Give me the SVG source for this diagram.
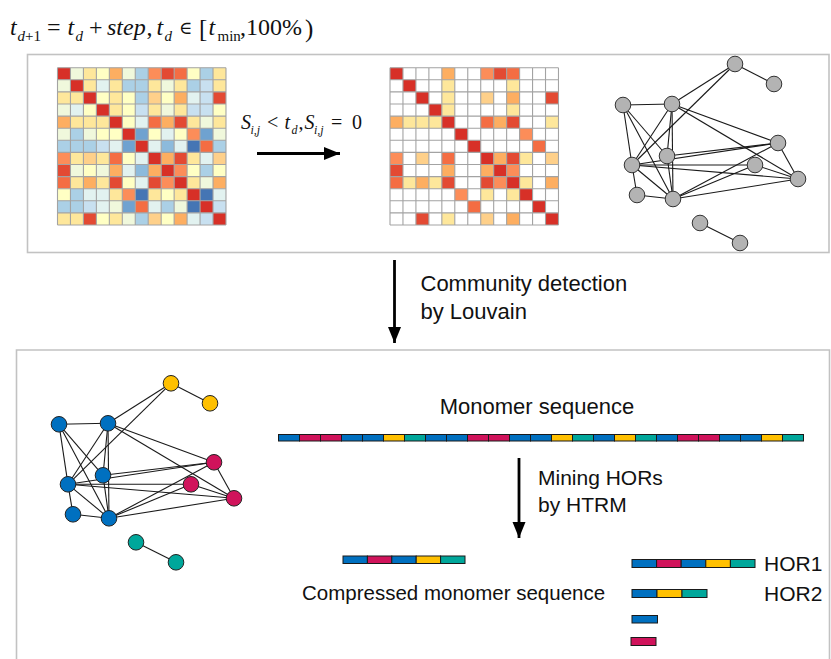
<svg xmlns="http://www.w3.org/2000/svg" xmlns:xlink="http://www.w3.org/1999/xlink" width="831" height="659" viewBox="0 0 831 659">
<style>
.lbl{font-family:"Liberation Sans",Arial,sans-serif;font-size:21px;fill:#111}
.mth{font-family:"Liberation Serif","Times New Roman",serif;fill:#111}
.sym{font-family:"DejaVu Serif","Liberation Serif",serif}
.it{font-style:italic}
.panel{fill:none;stroke:#c2c2c2;stroke-width:1.6}
.grid{fill:none;stroke:#a3a3a3;stroke-width:1.1}
.r{fill:#d73027}.R{fill:#e34a33}.o{fill:#f46d43}.n{fill:#fc8d59}.O{fill:#fdae61}.Y{fill:#fed08a}.y{fill:#fee79b}.p{fill:#ffffc4}.q{fill:#f0f8dc}.g{fill:#e2f2f0}.b{fill:#abd0e6}.c{fill:#c8e0f0}.k{fill:#8cbadc}.B{fill:#6fa2d0}.D{fill:#4575b4}
.edges line{stroke:#1a1a1a;stroke-width:1.1}
.gn circle{fill:#b3b3b3;stroke:#333;stroke-width:1}
.cb{fill:#0070c0;stroke:#222;stroke-width:1}
.cr{fill:#d0135b;stroke:#222;stroke-width:1}
.cy{fill:#ffc000;stroke:#222;stroke-width:1}
.ct{fill:#00a79b;stroke:#222;stroke-width:1}
.seg rect{stroke:#1a1a1a;stroke-width:1}
.sb{fill:#0070c0}.sp{fill:#d0135b}.sy{fill:#ffc000}.st{fill:#00a79b}
.arr{stroke:#000;stroke-width:2.8;fill:none}
</style>
<defs>
<marker id="ah" markerUnits="userSpaceOnUse" markerWidth="17" markerHeight="14" refX="16" refY="7" orient="auto">
<path d="M0,0.5 L16,7 L0,13.5 z" fill="#000"/>
</marker>
<path id="gridp" class="grid" vector-effect="non-scaling-stroke" d="M0 0H13M0 1H13M0 2H13M0 3H13M0 4H13M0 5H13M0 6H13M0 7H13M0 8H13M0 9H13M0 10H13M0 11H13M0 12H13M0 13H13M0 0V13M1 0V13M2 0V13M3 0V13M4 0V13M5 0V13M6 0V13M7 0V13M8 0V13M9 0V13M10 0V13M11 0V13M12 0V13M13 0V13"/>
</defs>
<rect width="831" height="659" fill="#fff"/>

<!-- formula -->
<g id="formula" class="mth">
<text x="10" y="35" font-size="24" class="it">t</text>
<text x="17.5" y="40.5" font-size="15"><tspan class="it">d</tspan>+1</text>
<text x="47" y="35" font-size="24">=</text>
<text x="67.5" y="35" font-size="24" class="it">t</text>
<text x="75.5" y="40.5" font-size="15" class="it">d</text>
<text x="89" y="35" font-size="24">+</text>
<text x="107" y="35" font-size="24" class="it">step</text>
<text x="146.5" y="35" font-size="24">,</text>
<text x="156.5" y="35" font-size="24" class="it">t</text>
<text x="164.5" y="40.5" font-size="15" class="it">d</text>
<text x="179" y="34" font-size="18" class="sym">∈</text>
<text x="199" y="37" font-size="25">[</text>
<text x="208.5" y="35" font-size="24" class="it">t</text>
<text x="217.5" y="40.5" font-size="15">min</text>
<text x="240" y="35" font-size="24">,100%</text>
<text x="305" y="37" font-size="25">)</text>
</g>

<!-- panels -->
<rect id="panel-top" class="panel" x="27.5" y="54.5" width="801.5" height="198"/>
<path id="panel-bottom" class="panel" d="M16.5,659 V350 H829.5 V659"/>

<!-- matrix 1 -->
<g id="matrix-full" transform="translate(57.5,67.7) scale(12.96,12.1)">
<rect x="0" y="0" width="1" height="1" class="r"/><rect x="1" y="0" width="1" height="1" class="q"/><rect x="2" y="0" width="1" height="1" class="y"/><rect x="3" y="0" width="1" height="1" class="p"/><rect x="4" y="0" width="1" height="1" class="O"/><rect x="5" y="0" width="1" height="1" class="q"/><rect x="6" y="0" width="1" height="1" class="b"/><rect x="7" y="0" width="1" height="1" class="n"/><rect x="8" y="0" width="1" height="1" class="R"/><rect x="9" y="0" width="1" height="1" class="o"/><rect x="10" y="0" width="1" height="1" class="p"/><rect x="11" y="0" width="1" height="1" class="b"/><rect x="12" y="0" width="1" height="1" class="y"/>
<rect x="0" y="1" width="1" height="1" class="q"/><rect x="1" y="1" width="1" height="1" class="r"/><rect x="2" y="1" width="1" height="1" class="y"/><rect x="3" y="1" width="1" height="1" class="g"/><rect x="4" y="1" width="1" height="1" class="y"/><rect x="5" y="1" width="1" height="1" class="b"/><rect x="6" y="1" width="1" height="1" class="b"/><rect x="7" y="1" width="1" height="1" class="y"/><rect x="8" y="1" width="1" height="1" class="q"/><rect x="9" y="1" width="1" height="1" class="y"/><rect x="10" y="1" width="1" height="1" class="b"/><rect x="11" y="1" width="1" height="1" class="c"/><rect x="12" y="1" width="1" height="1" class="y"/>
<rect x="0" y="2" width="1" height="1" class="y"/><rect x="1" y="2" width="1" height="1" class="y"/><rect x="2" y="2" width="1" height="1" class="r"/><rect x="3" y="2" width="1" height="1" class="p"/><rect x="4" y="2" width="1" height="1" class="y"/><rect x="5" y="2" width="1" height="1" class="p"/><rect x="6" y="2" width="1" height="1" class="b"/><rect x="7" y="2" width="1" height="1" class="Y"/><rect x="8" y="2" width="1" height="1" class="p"/><rect x="9" y="2" width="1" height="1" class="O"/><rect x="10" y="2" width="1" height="1" class="g"/><rect x="11" y="2" width="1" height="1" class="c"/><rect x="12" y="2" width="1" height="1" class="R"/>
<rect x="0" y="3" width="1" height="1" class="q"/><rect x="1" y="3" width="1" height="1" class="g"/><rect x="2" y="3" width="1" height="1" class="p"/><rect x="3" y="3" width="1" height="1" class="r"/><rect x="4" y="3" width="1" height="1" class="y"/><rect x="5" y="3" width="1" height="1" class="p"/><rect x="6" y="3" width="1" height="1" class="c"/><rect x="7" y="3" width="1" height="1" class="y"/><rect x="8" y="3" width="1" height="1" class="q"/><rect x="9" y="3" width="1" height="1" class="y"/><rect x="10" y="3" width="1" height="1" class="c"/><rect x="11" y="3" width="1" height="1" class="c"/><rect x="12" y="3" width="1" height="1" class="p"/>
<rect x="0" y="4" width="1" height="1" class="O"/><rect x="1" y="4" width="1" height="1" class="y"/><rect x="2" y="4" width="1" height="1" class="y"/><rect x="3" y="4" width="1" height="1" class="y"/><rect x="4" y="4" width="1" height="1" class="r"/><rect x="5" y="4" width="1" height="1" class="p"/><rect x="6" y="4" width="1" height="1" class="g"/><rect x="7" y="4" width="1" height="1" class="o"/><rect x="8" y="4" width="1" height="1" class="O"/><rect x="9" y="4" width="1" height="1" class="R"/><rect x="10" y="4" width="1" height="1" class="y"/><rect x="11" y="4" width="1" height="1" class="q"/><rect x="12" y="4" width="1" height="1" class="y"/>
<rect x="0" y="5" width="1" height="1" class="q"/><rect x="1" y="5" width="1" height="1" class="b"/><rect x="2" y="5" width="1" height="1" class="q"/><rect x="3" y="5" width="1" height="1" class="p"/><rect x="4" y="5" width="1" height="1" class="p"/><rect x="5" y="5" width="1" height="1" class="r"/><rect x="6" y="5" width="1" height="1" class="B"/><rect x="7" y="5" width="1" height="1" class="p"/><rect x="8" y="5" width="1" height="1" class="g"/><rect x="9" y="5" width="1" height="1" class="p"/><rect x="10" y="5" width="1" height="1" class="n"/><rect x="11" y="5" width="1" height="1" class="B"/><rect x="12" y="5" width="1" height="1" class="q"/>
<rect x="0" y="6" width="1" height="1" class="b"/><rect x="1" y="6" width="1" height="1" class="b"/><rect x="2" y="6" width="1" height="1" class="b"/><rect x="3" y="6" width="1" height="1" class="c"/><rect x="4" y="6" width="1" height="1" class="g"/><rect x="5" y="6" width="1" height="1" class="B"/><rect x="6" y="6" width="1" height="1" class="r"/><rect x="7" y="6" width="1" height="1" class="g"/><rect x="8" y="6" width="1" height="1" class="k"/><rect x="9" y="6" width="1" height="1" class="g"/><rect x="10" y="6" width="1" height="1" class="D"/><rect x="11" y="6" width="1" height="1" class="o"/><rect x="12" y="6" width="1" height="1" class="b"/>
<rect x="0" y="7" width="1" height="1" class="n"/><rect x="1" y="7" width="1" height="1" class="y"/><rect x="2" y="7" width="1" height="1" class="Y"/><rect x="3" y="7" width="1" height="1" class="y"/><rect x="4" y="7" width="1" height="1" class="o"/><rect x="5" y="7" width="1" height="1" class="p"/><rect x="6" y="7" width="1" height="1" class="g"/><rect x="7" y="7" width="1" height="1" class="r"/><rect x="8" y="7" width="1" height="1" class="O"/><rect x="9" y="7" width="1" height="1" class="R"/><rect x="10" y="7" width="1" height="1" class="y"/><rect x="11" y="7" width="1" height="1" class="g"/><rect x="12" y="7" width="1" height="1" class="Y"/>
<rect x="0" y="8" width="1" height="1" class="R"/><rect x="1" y="8" width="1" height="1" class="q"/><rect x="2" y="8" width="1" height="1" class="p"/><rect x="3" y="8" width="1" height="1" class="q"/><rect x="4" y="8" width="1" height="1" class="O"/><rect x="5" y="8" width="1" height="1" class="g"/><rect x="6" y="8" width="1" height="1" class="k"/><rect x="7" y="8" width="1" height="1" class="O"/><rect x="8" y="8" width="1" height="1" class="r"/><rect x="9" y="8" width="1" height="1" class="n"/><rect x="10" y="8" width="1" height="1" class="p"/><rect x="11" y="8" width="1" height="1" class="b"/><rect x="12" y="8" width="1" height="1" class="p"/>
<rect x="0" y="9" width="1" height="1" class="o"/><rect x="1" y="9" width="1" height="1" class="y"/><rect x="2" y="9" width="1" height="1" class="O"/><rect x="3" y="9" width="1" height="1" class="y"/><rect x="4" y="9" width="1" height="1" class="R"/><rect x="5" y="9" width="1" height="1" class="p"/><rect x="6" y="9" width="1" height="1" class="g"/><rect x="7" y="9" width="1" height="1" class="R"/><rect x="8" y="9" width="1" height="1" class="n"/><rect x="9" y="9" width="1" height="1" class="r"/><rect x="10" y="9" width="1" height="1" class="y"/><rect x="11" y="9" width="1" height="1" class="q"/><rect x="12" y="9" width="1" height="1" class="O"/>
<rect x="0" y="10" width="1" height="1" class="p"/><rect x="1" y="10" width="1" height="1" class="b"/><rect x="2" y="10" width="1" height="1" class="g"/><rect x="3" y="10" width="1" height="1" class="g"/><rect x="4" y="10" width="1" height="1" class="y"/><rect x="5" y="10" width="1" height="1" class="n"/><rect x="6" y="10" width="1" height="1" class="D"/><rect x="7" y="10" width="1" height="1" class="y"/><rect x="8" y="10" width="1" height="1" class="p"/><rect x="9" y="10" width="1" height="1" class="y"/><rect x="10" y="10" width="1" height="1" class="r"/><rect x="11" y="10" width="1" height="1" class="D"/><rect x="12" y="10" width="1" height="1" class="g"/>
<rect x="0" y="11" width="1" height="1" class="b"/><rect x="1" y="11" width="1" height="1" class="b"/><rect x="2" y="11" width="1" height="1" class="c"/><rect x="3" y="11" width="1" height="1" class="g"/><rect x="4" y="11" width="1" height="1" class="q"/><rect x="5" y="11" width="1" height="1" class="B"/><rect x="6" y="11" width="1" height="1" class="o"/><rect x="7" y="11" width="1" height="1" class="g"/><rect x="8" y="11" width="1" height="1" class="b"/><rect x="9" y="11" width="1" height="1" class="q"/><rect x="10" y="11" width="1" height="1" class="D"/><rect x="11" y="11" width="1" height="1" class="r"/><rect x="12" y="11" width="1" height="1" class="c"/>
<rect x="0" y="12" width="1" height="1" class="y"/><rect x="1" y="12" width="1" height="1" class="y"/><rect x="2" y="12" width="1" height="1" class="R"/><rect x="3" y="12" width="1" height="1" class="p"/><rect x="4" y="12" width="1" height="1" class="y"/><rect x="5" y="12" width="1" height="1" class="q"/><rect x="6" y="12" width="1" height="1" class="b"/><rect x="7" y="12" width="1" height="1" class="Y"/><rect x="8" y="12" width="1" height="1" class="p"/><rect x="9" y="12" width="1" height="1" class="O"/><rect x="10" y="12" width="1" height="1" class="g"/><rect x="11" y="12" width="1" height="1" class="c"/><rect x="12" y="12" width="1" height="1" class="r"/>
<use xlink:href="#gridp" href="#gridp"/>
</g>

<!-- threshold label -->
<g id="threshold-label" class="mth">
<text x="241" y="128.5" font-size="20" class="it">S</text>
<text x="250.5" y="134" font-size="12" class="it">i,j</text>
<text x="267" y="128.5" font-size="20">&lt;</text>
<text x="284.5" y="128.5" font-size="20" class="it">t</text>
<text x="291.5" y="134" font-size="12" class="it">d</text>
<text x="298.5" y="128.5" font-size="20">,</text>
<text x="304.5" y="128.5" font-size="20" class="it">S</text>
<text x="314" y="134" font-size="12" class="it">i,j</text>
<text x="331" y="128.5" font-size="20">=</text>
<text x="352" y="128.5" font-size="20">0</text>
</g>

<!-- matrix 2 -->
<g id="matrix-thresholded" transform="translate(390,67.7) scale(12.96,12.1)">
<rect x="0" y="0" width="13" height="13" fill="#fff"/>
<rect x="0" y="0" width="1" height="1" class="r"/><rect x="4" y="0" width="1" height="1" class="O"/><rect x="7" y="0" width="1" height="1" class="n"/><rect x="8" y="0" width="1" height="1" class="R"/><rect x="9" y="0" width="1" height="1" class="o"/>
<rect x="1" y="1" width="1" height="1" class="r"/><rect x="4" y="1" width="1" height="1" class="y"/><rect x="9" y="1" width="1" height="1" class="y"/>
<rect x="2" y="2" width="1" height="1" class="r"/><rect x="4" y="2" width="1" height="1" class="y"/><rect x="7" y="2" width="1" height="1" class="Y"/><rect x="9" y="2" width="1" height="1" class="O"/><rect x="12" y="2" width="1" height="1" class="R"/>
<rect x="3" y="3" width="1" height="1" class="r"/><rect x="4" y="3" width="1" height="1" class="y"/><rect x="9" y="3" width="1" height="1" class="y"/>
<rect x="0" y="4" width="1" height="1" class="O"/><rect x="1" y="4" width="3" height="1" class="y"/><rect x="4" y="4" width="1" height="1" class="r"/><rect x="7" y="4" width="1" height="1" class="o"/><rect x="8" y="4" width="1" height="1" class="O"/><rect x="9" y="4" width="1" height="1" class="R"/><rect x="12" y="4" width="1" height="1" class="y"/>
<rect x="5" y="5" width="1" height="1" class="r"/><rect x="10" y="5" width="1" height="1" class="n"/>
<rect x="6" y="6" width="1" height="1" class="r"/><rect x="11" y="6" width="1" height="1" class="o"/>
<rect x="0" y="7" width="1" height="1" class="n"/><rect x="2" y="7" width="1" height="1" class="Y"/><rect x="4" y="7" width="1" height="1" class="o"/><rect x="7" y="7" width="1" height="1" class="r"/><rect x="8" y="7" width="1" height="1" class="O"/><rect x="9" y="7" width="1" height="1" class="R"/><rect x="10" y="7" width="1" height="1" class="y"/><rect x="12" y="7" width="1" height="1" class="Y"/>
<rect x="0" y="8" width="1" height="1" class="R"/><rect x="4" y="8" width="1" height="1" class="O"/><rect x="7" y="8" width="1" height="1" class="O"/><rect x="8" y="8" width="1" height="1" class="r"/><rect x="9" y="8" width="1" height="1" class="n"/>
<rect x="0" y="9" width="1" height="1" class="o"/><rect x="1" y="9" width="1" height="1" class="y"/><rect x="2" y="9" width="1" height="1" class="O"/><rect x="3" y="9" width="1" height="1" class="y"/><rect x="4" y="9" width="1" height="1" class="R"/><rect x="7" y="9" width="1" height="1" class="R"/><rect x="8" y="9" width="1" height="1" class="n"/><rect x="9" y="9" width="1" height="1" class="r"/><rect x="10" y="9" width="1" height="1" class="y"/><rect x="12" y="9" width="1" height="1" class="O"/>
<rect x="5" y="10" width="1" height="1" class="n"/><rect x="7" y="10" width="1" height="1" class="y"/><rect x="9" y="10" width="1" height="1" class="y"/><rect x="10" y="10" width="1" height="1" class="r"/>
<rect x="6" y="11" width="1" height="1" class="o"/><rect x="11" y="11" width="1" height="1" class="r"/>
<rect x="2" y="12" width="1" height="1" class="R"/><rect x="4" y="12" width="1" height="1" class="y"/><rect x="7" y="12" width="1" height="1" class="Y"/><rect x="9" y="12" width="1" height="1" class="O"/><rect x="12" y="12" width="1" height="1" class="r"/>
<use xlink:href="#gridp" href="#gridp"/>
</g>

<!-- connectors -->
<g id="connectors">
<line class="arr" x1="257" y1="153.5" x2="340" y2="153.5" marker-end="url(#ah)"/>
<line class="arr" x1="394.5" y1="260" x2="394.5" y2="343" marker-end="url(#ah)"/>
<line class="arr" x1="519" y1="458" x2="519" y2="538" marker-end="url(#ah)"/>
</g>

<!-- top graph edges -->
<g id="graph-top-edges" class="edges">
<line x1="735" y1="64" x2="774" y2="84"/>
<line x1="735" y1="64" x2="672" y2="104"/>
<line x1="735" y1="64" x2="632" y2="165"/>
<line x1="623" y1="105" x2="672" y2="104"/>
<line x1="623" y1="105" x2="632" y2="165"/>
<line x1="623" y1="105" x2="667" y2="156"/>
<line x1="623" y1="105" x2="673" y2="199"/>
<line x1="672" y1="104" x2="632" y2="165"/>
<line x1="672" y1="104" x2="667" y2="156"/>
<line x1="672" y1="104" x2="673" y2="199"/>
<line x1="672" y1="104" x2="778" y2="143"/>
<line x1="672" y1="104" x2="798" y2="179"/>
<line x1="632" y1="165" x2="778" y2="143"/>
<line x1="667" y1="156" x2="778" y2="143"/>
<line x1="667" y1="156" x2="673" y2="199"/>
<line x1="632" y1="165" x2="755" y2="165"/>
<line x1="632" y1="165" x2="798" y2="179"/>
<line x1="632" y1="165" x2="637" y2="195"/>
<line x1="632" y1="165" x2="673" y2="199"/>
<line x1="637" y1="195" x2="673" y2="199"/>
<line x1="673" y1="199" x2="755" y2="165"/>
<line x1="673" y1="199" x2="778" y2="143"/>
<line x1="673" y1="199" x2="798" y2="179"/>
<line x1="755" y1="165" x2="798" y2="179"/>
<line x1="778" y1="143" x2="798" y2="179"/>
<line x1="700" y1="223" x2="740" y2="243"/>
</g>
<g class="gn">
<g id="t-A"><circle cx="735" cy="64" r="7.8"/></g>
<g id="t-B"><circle cx="774" cy="84" r="7.8"/></g>
<g id="t-C"><circle cx="623" cy="105" r="7.8"/></g>
<g id="t-D"><circle cx="672" cy="104" r="7.8"/></g>
<g id="t-E"><circle cx="778" cy="143" r="7.8"/></g>
<g id="t-F"><circle cx="667" cy="156" r="7.8"/></g>
<g id="t-G"><circle cx="632" cy="165" r="7.8"/></g>
<g id="t-H"><circle cx="755" cy="165" r="7.8"/></g>
<g id="t-I"><circle cx="798" cy="179" r="7.8"/></g>
<g id="t-J"><circle cx="637" cy="195" r="7.8"/></g>
<g id="t-K"><circle cx="673" cy="199" r="7.8"/></g>
<g id="t-L"><circle cx="700" cy="223" r="7.8"/></g>
<g id="t-M"><circle cx="740" cy="243" r="7.8"/></g>
</g>

<text class="lbl" x="420.5" y="290.5" style="font-size:22px">Community detection</text>
<text class="lbl" x="420.5" y="318.5" style="font-size:22px">by Louvain</text>

<!-- bottom graph edges (translated copy) -->
<g id="graph-bottom-edges" class="edges" transform="translate(-564,319.3)">
<line x1="735" y1="64" x2="774" y2="84"/>
<line x1="735" y1="64" x2="672" y2="104"/>
<line x1="735" y1="64" x2="632" y2="165"/>
<line x1="623" y1="105" x2="672" y2="104"/>
<line x1="623" y1="105" x2="632" y2="165"/>
<line x1="623" y1="105" x2="667" y2="156"/>
<line x1="623" y1="105" x2="673" y2="199"/>
<line x1="672" y1="104" x2="632" y2="165"/>
<line x1="672" y1="104" x2="667" y2="156"/>
<line x1="672" y1="104" x2="673" y2="199"/>
<line x1="672" y1="104" x2="778" y2="143"/>
<line x1="672" y1="104" x2="798" y2="179"/>
<line x1="632" y1="165" x2="778" y2="143"/>
<line x1="667" y1="156" x2="778" y2="143"/>
<line x1="667" y1="156" x2="673" y2="199"/>
<line x1="632" y1="165" x2="755" y2="165"/>
<line x1="632" y1="165" x2="798" y2="179"/>
<line x1="632" y1="165" x2="637" y2="195"/>
<line x1="632" y1="165" x2="673" y2="199"/>
<line x1="637" y1="195" x2="673" y2="199"/>
<line x1="673" y1="199" x2="755" y2="165"/>
<line x1="673" y1="199" x2="778" y2="143"/>
<line x1="673" y1="199" x2="798" y2="179"/>
<line x1="755" y1="165" x2="798" y2="179"/>
<line x1="778" y1="143" x2="798" y2="179"/>
<line x1="700" y1="223" x2="740" y2="243"/>
</g>
<g id="graph-bottom-nodes" transform="translate(-564,319.3)">
<g id="b-A"><circle class="cy" cx="735" cy="64" r="7.8"/></g>
<g id="b-B"><circle class="cy" cx="774" cy="84" r="7.8"/></g>
<g id="b-C"><circle class="cb" cx="623" cy="105" r="7.8"/></g>
<g id="b-D"><circle class="cb" cx="672" cy="104" r="7.8"/></g>
<g id="b-E"><circle class="cr" cx="778" cy="143" r="7.8"/></g>
<g id="b-F"><circle class="cb" cx="667" cy="156" r="7.8"/></g>
<g id="b-G"><circle class="cb" cx="632" cy="165" r="7.8"/></g>
<g id="b-H"><circle class="cr" cx="755" cy="165" r="7.8"/></g>
<g id="b-I"><circle class="cr" cx="798" cy="179" r="7.8"/></g>
<g id="b-J"><circle class="cb" cx="637" cy="195" r="7.8"/></g>
<g id="b-K"><circle class="cb" cx="673" cy="199" r="7.8"/></g>
<g id="b-L"><circle class="ct" cx="700" cy="223" r="7.8"/></g>
<g id="b-M"><circle class="ct" cx="740" cy="243" r="7.8"/></g>
</g>

<text class="lbl" x="537" y="414" text-anchor="middle" style="font-size:22px">Monomer sequence</text>

<g id="monomer-seq" class="seg">
<rect x="278.5" y="434.5" width="21" height="6.5" class="sb"/>
<rect x="299.5" y="434.5" width="21" height="6.5" class="sp"/>
<rect x="320.5" y="434.5" width="21" height="6.5" class="sp"/>
<rect x="341.5" y="434.5" width="21" height="6.5" class="sb"/>
<rect x="362.5" y="434.5" width="21" height="6.5" class="sb"/>
<rect x="383.5" y="434.5" width="21" height="6.5" class="sy"/>
<rect x="404.5" y="434.5" width="21" height="6.5" class="st"/>
<rect x="425.5" y="434.5" width="21" height="6.5" class="sb"/>
<rect x="446.5" y="434.5" width="21" height="6.5" class="sb"/>
<rect x="467.5" y="434.5" width="21" height="6.5" class="sp"/>
<rect x="488.5" y="434.5" width="21" height="6.5" class="sp"/>
<rect x="509.5" y="434.5" width="21" height="6.5" class="sb"/>
<rect x="530.5" y="434.5" width="21" height="6.5" class="sb"/>
<rect x="551.5" y="434.5" width="21" height="6.5" class="sy"/>
<rect x="572.5" y="434.5" width="21" height="6.5" class="st"/>
<rect x="593.5" y="434.5" width="21" height="6.5" class="sb"/>
<rect x="614.5" y="434.5" width="21" height="6.5" class="sy"/>
<rect x="635.5" y="434.5" width="21" height="6.5" class="st"/>
<rect x="656.5" y="434.5" width="21" height="6.5" class="sb"/>
<rect x="677.5" y="434.5" width="21" height="6.5" class="sp"/>
<rect x="698.5" y="434.5" width="21" height="6.5" class="sp"/>
<rect x="719.5" y="434.5" width="21" height="6.5" class="sb"/>
<rect x="740.5" y="434.5" width="21" height="6.5" class="sb"/>
<rect x="761.5" y="434.5" width="21" height="6.5" class="sy"/>
<rect x="782.5" y="434.5" width="21" height="6.5" class="st"/>
</g>

<text class="lbl" x="538" y="485">Mining HORs</text>
<text class="lbl" x="538" y="512">by HTRM</text>

<g id="compressed-seq" class="seg">
<rect x="343" y="556" width="24.4" height="7.5" class="sb"/>
<rect x="367.4" y="556" width="24.4" height="7.5" class="sp"/>
<rect x="391.8" y="556" width="24.4" height="7.5" class="sb"/>
<rect x="416.2" y="556" width="24.4" height="7.5" class="sy"/>
<rect x="440.6" y="556" width="24.4" height="7.5" class="st"/>
</g>
<text class="lbl" x="302" y="600" style="font-size:20.5px">Compressed monomer sequence</text>

<g id="hor1" class="seg">
<rect x="632" y="559.5" width="24.6" height="8" class="sb"/>
<rect x="656.6" y="559.5" width="24.6" height="8" class="sp"/>
<rect x="681.2" y="559.5" width="24.6" height="8" class="sb"/>
<rect x="705.8" y="559.5" width="24.6" height="8" class="sy"/>
<rect x="730.4" y="559.5" width="24.6" height="8" class="st"/>
</g>
<text class="lbl" x="764" y="571">HOR1</text>
<g id="hor2" class="seg">
<rect x="632" y="589.5" width="25" height="8" class="sb"/>
<rect x="657" y="589.5" width="25" height="8" class="sy"/>
<rect x="682" y="589.5" width="25" height="8" class="st"/>
</g>
<text class="lbl" x="764" y="601">HOR2</text>
<g id="single-blue" class="seg"><rect x="632" y="615.5" width="25.5" height="7.5" class="sb"/></g>
<g id="single-pink" class="seg"><rect x="631" y="637.5" width="25" height="8" class="sp"/></g>
</svg>
